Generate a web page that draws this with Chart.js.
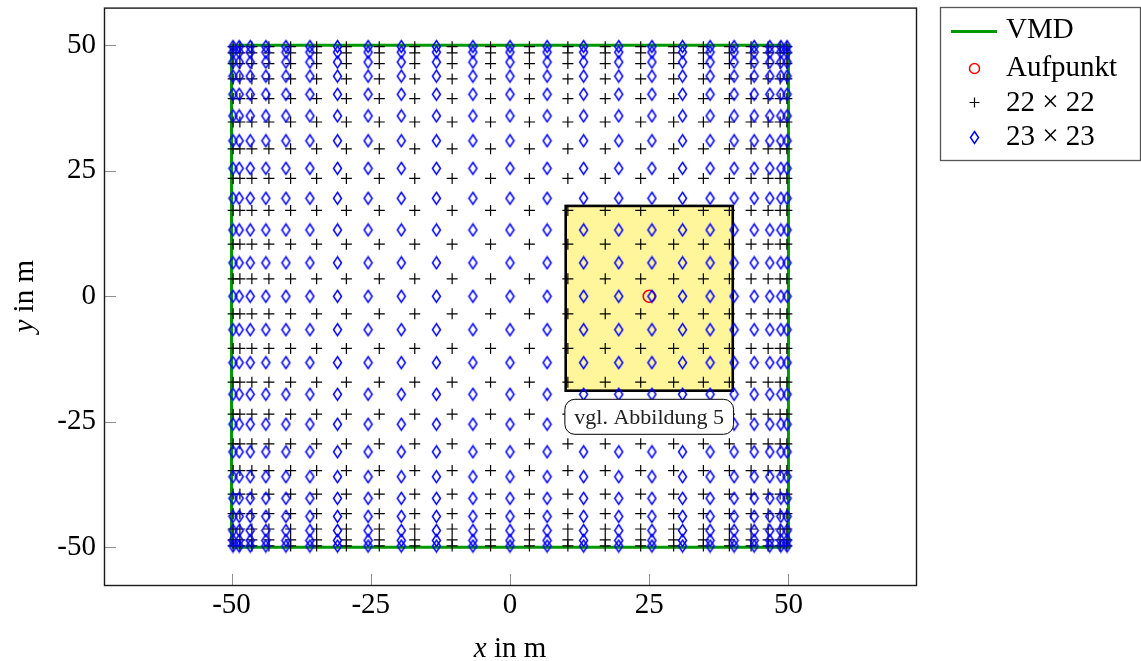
<!DOCTYPE html>
<html>
<head>
<meta charset="utf-8">
<script src="https://cdn.jsdelivr.net/npm/chart.js@4.4.1/dist/chart.umd.min.js"></script>
<style>
html, body { margin: 0; padding: 0; background: #ffffff; }
#wrap { width: 1141px; height: 661px; }
</style>
</head>
<body>
<div id="wrap"><canvas id="c" width="1141" height="661"></canvas></div>
<script>
const FONT = '"Liberation Serif", "Times New Roman", serif';

// 1D node coordinates (m)
const coords22 = [-49.71, -48.50, -46.35, -43.29, -39.39, -34.72, -29.38, -23.47, -17.10, -10.39, -3.49,
                  3.49, 10.39, 17.10, 23.47, 29.38, 34.72, 39.39, 43.29, 46.35, 48.50, 49.71];
const coords23 = [-49.74, -48.63, -46.65, -43.84, -40.24, -35.93, -30.98, -25.48, -19.52, -13.21, -6.66, 0,
                  6.66, 13.21, 19.52, 25.48, 30.98, 35.93, 40.24, 43.84, 46.65, 48.63, 49.74];

// VMD outline
const vmdX = [-50, 50, 50, -50, -50];
const vmdY = [-50, -50, 50, 50, -50];

// Aufpunkt
const aufpunktX = [25];
const aufpunktY = [0];

// highlighted region and its note
const highlightX = [10, 40];
const highlightY = [-18.8, 18];
const noteX = [25];
const noteY = [-24];
const noteText = ['vgl. Abbildung 5'];

// axes
const xTicks = [-50, -25, 0, 25, 50];
const yTicks = [-50, -25, 0, 25, 50];
const xRange = [-72.9, 72.9];
const yRange = [-57.5, 57.5];

const seriesLabels = ['VMD', 'Aufpunkt', '22 \u00d7 22', '23 \u00d7 23'];

function gridPoints(cs) {
  const pts = [];
  for (const yv of cs) for (const xv of cs) pts.push({ x: xv, y: yv });
  return pts;
}
function zipPts(xs, ys) { return xs.map((v, i) => ({ x: v, y: ys[i] })); }

// tall diamond marker
const diamond = document.createElement('canvas');
diamond.width = 11; diamond.height = 15;
(function () {
  const g = diamond.getContext('2d');
  g.strokeStyle = '#0000ff';
  g.lineWidth = 1.5;
  g.beginPath();
  g.moveTo(5.5, 1.5); g.lineTo(9.5, 7.5); g.lineTo(5.5, 13.5); g.lineTo(1.5, 7.5); g.closePath();
  g.stroke();
})();

const frameAndExtras = {
  id: 'frameAndExtras',
  beforeDatasetsDraw(chart) {
    const { ctx } = chart;
    const xs = chart.scales.x, ys = chart.scales.y;
    const l = xs.getPixelForValue(highlightX[0]), r = xs.getPixelForValue(highlightX[1]);
    const t = ys.getPixelForValue(highlightY[1]), b = ys.getPixelForValue(highlightY[0]);
    ctx.save();
    ctx.fillStyle = '#fff59a';
    ctx.fillRect(l, t, r - l, b - t);
    ctx.strokeStyle = '#000';
    ctx.lineWidth = 2.6;
    ctx.strokeRect(l, t, r - l, b - t);
    ctx.restore();
  },
  afterDatasetsDraw(chart) {
    const { ctx } = chart;
    const xs = chart.scales.x, ys = chart.scales.y;
    // note box
    ctx.save();
    ctx.font = '22px ' + FONT;
    const tw = ctx.measureText(noteText[0]).width;
    const cx = xs.getPixelForValue(noteX[0]), cy = ys.getPixelForValue(noteY[0]);
    const w = tw + 19, h = 35, rad = 10;
    const bx = cx - w / 2, by = cy - h / 2;
    ctx.beginPath();
    ctx.roundRect(bx, by, w, h, rad);
    ctx.fillStyle = '#fff';
    ctx.fill();
    ctx.strokeStyle = '#000';
    ctx.lineWidth = 1;
    ctx.stroke();
    ctx.fillStyle = '#222';
    ctx.textAlign = 'center';
    ctx.textBaseline = 'middle';
    ctx.fillText(noteText[0], cx, cy + 1);
    ctx.restore();
  },
  afterDraw(chart) {
    const { ctx, chartArea: a } = chart;
    const xs = chart.scales.x, ys = chart.scales.y;
    ctx.save();
    // inward ticks
    ctx.strokeStyle = '#8f8f8f';
    ctx.lineWidth = 1;
    ctx.beginPath();
    xTicks.forEach(v => {
      const p = Math.round(xs.getPixelForValue(v)) + 0.5;
      ctx.moveTo(p, a.bottom); ctx.lineTo(p, a.bottom - 11);
    });
    yTicks.forEach(v => {
      const p = Math.round(ys.getPixelForValue(v)) + 0.5;
      ctx.moveTo(a.left, p); ctx.lineTo(a.left + 12, p);
    });
    ctx.stroke();
    // frame
    ctx.strokeStyle = '#1a1a1a';
    ctx.lineWidth = 1.4;
    ctx.strokeRect(a.left + 0.5, a.top + 0.5, a.right - a.left, a.bottom - a.top);

    // axis titles
    ctx.fillStyle = '#000';
    ctx.textBaseline = 'alphabetic';
    const it = 'italic 29px ' + FONT, nf = '29px ' + FONT;
    ctx.font = it; const w1 = ctx.measureText('x').width;
    ctx.font = nf; const w2 = ctx.measureText(' in m').width;
    let sx = (a.left + a.right) / 2 - (w1 + w2) / 2;
    ctx.textAlign = 'left';
    ctx.font = it; ctx.fillText('x', sx, 657);
    ctx.font = nf; ctx.fillText(' in m', sx + w1, 657);

    ctx.save();
    ctx.translate(33, (a.top + a.bottom) / 2);
    ctx.rotate(-Math.PI / 2);
    ctx.font = it; const v1 = ctx.measureText('y').width;
    ctx.font = nf; const v2 = ctx.measureText(' in m').width;
    const sy = -(v1 + v2) / 2;
    ctx.font = it; ctx.fillText('y', sy, 0);
    ctx.font = nf; ctx.fillText(' in m', sy + v1, 0);
    ctx.restore();

    // legend
    const lx = 940.5, ly = 7.5, lw = 200, lh = 153;
    ctx.fillStyle = '#fff';
    ctx.fillRect(lx, ly, lw, lh);
    ctx.strokeStyle = '#555';
    ctx.lineWidth = 1.3;
    ctx.strokeRect(lx, ly, lw, lh);
    const mx = 974.5;
    ctx.strokeStyle = '#009900';
    ctx.lineWidth = 3;
    ctx.beginPath(); ctx.moveTo(951, 31.5); ctx.lineTo(997, 31.5); ctx.stroke();
    ctx.strokeStyle = '#ff0000';
    ctx.lineWidth = 1.5;
    ctx.beginPath(); ctx.arc(mx, 68.5, 5, 0, Math.PI * 2); ctx.stroke();
    ctx.strokeStyle = '#000';
    ctx.lineWidth = 1.2;
    ctx.beginPath(); ctx.moveTo(mx - 5, 102.5); ctx.lineTo(mx + 5, 102.5);
    ctx.moveTo(mx, 97.5); ctx.lineTo(mx, 107.5); ctx.stroke();
    ctx.drawImage(diamond, Math.round(mx - 5.5), Math.round(137 - 7.5));
    ctx.fillStyle = '#000';
    ctx.font = '29px ' + FONT;
    ctx.textAlign = 'left';
    ctx.textBaseline = 'middle';
    const tys = [30, 68.5, 103, 137];
    seriesLabels.forEach((s, i) => ctx.fillText(s, 1006, tys[i]));
    ctx.restore();
  }
};

const chart = new Chart(document.getElementById('c'), {
  type: 'scatter',
  data: {
    datasets: [
      {
        label: seriesLabels[0],
        type: 'line',
        data: zipPts(vmdX, vmdY),
        borderColor: '#009900',
        borderWidth: 3,
        pointRadius: 0,
        fill: false,
        tension: 0,
        order: 4
      },
      {
        label: seriesLabels[1],
        data: zipPts(aufpunktX, aufpunktY),
        pointStyle: 'circle',
        pointRadius: 6,
        borderColor: '#ff0000',
        backgroundColor: 'rgba(0,0,0,0)',
        borderWidth: 1.6,
        order: 3
      },
      {
        label: seriesLabels[2],
        data: gridPoints(coords22),
        pointStyle: 'cross',
        pointRadius: 5.5,
        borderColor: '#000000',
        borderWidth: 1.2,
        order: 2
      },
      {
        label: seriesLabels[3],
        data: gridPoints(coords23),
        pointStyle: diamond,
        pointRadius: 6,
        borderColor: '#0000ff',
        order: 1
      }
    ]
  },
  options: {
    responsive: false,
    animation: false,
    events: [],
    layout: { padding: { left: 0, top: 7, right: 225, bottom: 0 } },
    plugins: { legend: { display: false }, tooltip: { enabled: false } },
    scales: {
      x: {
        type: 'linear',
        min: xRange[0], max: xRange[1],
        grid: { display: false, drawTicks: false },
        border: { display: false },
        afterBuildTicks: s => { s.ticks = xTicks.map(v => ({ value: v })); },
        afterFit: s => { s.height = 76; s.paddingLeft = 0; s.paddingRight = 0; },
        ticks: {
          padding: 6,
          color: '#000',
          maxRotation: 0,
          font: { family: FONT, size: 29, lineHeight: 1 },
          callback: v => String(v)
        }
      },
      y: {
        type: 'linear',
        min: yRange[0], max: yRange[1],
        grid: { display: false, drawTicks: false },
        border: { display: false },
        afterBuildTicks: s => { s.ticks = yTicks.map(v => ({ value: v })); },
        afterFit: s => { s.width = 104; s.paddingTop = 0; s.paddingBottom = 0; },
        ticks: {
          padding: 8,
          color: '#000',
          font: { family: FONT, size: 29, lineHeight: 1 },
          callback: v => String(v)
        }
      }
    }
  },
  plugins: [frameAndExtras]
});
</script>
</body>
</html>
